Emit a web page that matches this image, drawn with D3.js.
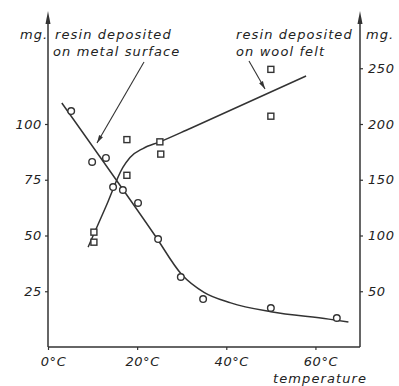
<!DOCTYPE html>
<html lang="en">
<head>
<meta charset="UTF-8">
<title>Resin deposited vs temperature</title>
<script src="https://d3js.org/d3.v7.min.js"></script>
<style>
    body { margin: 0; background: #fff; }
    svg { display: block; }
    text {
        font-family: "DejaVu Sans", sans-serif;
        font-style: italic;
        font-size: 13px;
        fill: #222;
    }
    .note { letter-spacing: 1.1px; }
    .tick line { stroke: #333; stroke-width: 1.2; }
    .domain { display: none; }
</style>
</head>
<body>
<script>
// metal surface (left axis, mg)
const metalTemp = [5.2, 9.9, 13, 14.6, 16.8, 20.2, 24.7, 29.8, 34.8, 50, 64.8];
const metalMg   = [105.8, 83, 84.8, 71.7, 70.4, 64.6, 48.4, 31.4, 21.5, 17.5, 13];
const metalCurveT = [3.1, 24, 30, 35, 41, 50, 63, 67.4];
const metalCurveV = [109.4, 50, 32.5, 24.5, 19.8, 15.8, 12.5, 11.2];

// wool felt (right axis, mg)
const woolTemp = [10.3, 10.3, 17.7, 17.7, 25.1, 25.3, 50, 50];
const woolMg   = [103, 94, 186, 154, 184, 173, 249, 207];
const woolCurveT = [9, 13, 16.8, 18.4, 21.3, 25.1, 31.9, 57.9];
const woolCurveV = [89.6, 126, 161, 170, 178, 184, 196, 243];

const xTicks = [0, 20, 40, 60];
const leftTicks = [25, 50, 75, 100];
const rightTicks = [50, 100, 150, 200, 250];

const W = 399, H = 386;
const svg = d3.select("body").append("svg").attr("width", W).attr("height", H);

const x = d3.scaleLinear().domain([0, 70]).range([48, 360]);
const yL = d3.scaleLinear().domain([0, 125]).range([347, 68.25]);
const yR = d3.scaleLinear().domain([0, 250]).range([347, 68.25]);
const ink = "#333";

// frame lines
svg.append("line").attr("x1", x(0)).attr("x2", x(70)).attr("y1", 347).attr("y2", 347)
    .attr("stroke", ink).attr("stroke-width", 1.5);
[x(0), x(70)].forEach(px => {
    svg.append("line").attr("x1", px).attr("x2", px).attr("y1", 347).attr("y2", 20)
        .attr("stroke", ink).attr("stroke-width", 1.5);
    svg.append("path").attr("d", `M${px},11 L${px - 2.5},24 L${px + 2.5},24 Z`).attr("fill", ink);
});

function styleText(g) {
    g.selectAll("text").style("font-size", "13px").style("font-family", "DejaVu Sans")
        .style("font-style", "italic").attr("fill", "#222");
}

// axes
svg.append("g").attr("transform", "translate(0,347)")
    .call(d3.axisBottom(x).tickValues(xTicks).tickSize(3).tickPadding(7).tickFormat(d => d + "°C"))
    .call(styleText)
    .call(g => g.selectAll("text").attr("dx", 5).style("letter-spacing", "0.6px"));
svg.append("g").attr("transform", `translate(${x(0)},0)`)
    .call(d3.axisLeft(yL).tickValues(leftTicks).tickSize(3).tickPadding(3))
    .call(styleText)
    .call(g => g.selectAll("text").style("letter-spacing", "0.6px"));
svg.append("g").attr("transform", `translate(${x(70)},0)`)
    .call(d3.axisRight(yR).tickValues(rightTicks).tickSize(3).tickPadding(5))
    .call(styleText)
    .call(g => g.selectAll("text").style("letter-spacing", "0.6px"));

// curves
const metalLine = d3.line().x(d => x(d[0])).y(d => yL(d[1])).curve(d3.curveMonotoneX);
const woolLine = d3.line().x(d => x(d[0])).y(d => yR(d[1])).curve(d3.curveMonotoneX);
svg.append("path").attr("d", metalLine(d3.zip(metalCurveT, metalCurveV)))
    .attr("fill", "none").attr("stroke", ink).attr("stroke-width", 1.5);
svg.append("path").attr("d", woolLine(d3.zip(woolCurveT, woolCurveV)))
    .attr("fill", "none").attr("stroke", ink).attr("stroke-width", 1.5);

// markers
svg.selectAll(".metal").data(d3.zip(metalTemp, metalMg)).enter().append("circle")
    .attr("cx", d => x(d[0])).attr("cy", d => yL(d[1])).attr("r", 3.3)
    .attr("fill", "#fff").attr("stroke", ink).attr("stroke-width", 1.4);
svg.selectAll(".wool").data(d3.zip(woolTemp, woolMg)).enter().append("rect")
    .attr("x", d => x(d[0]) - 3).attr("y", d => yR(d[1]) - 3).attr("width", 6).attr("height", 6)
    .attr("fill", "#fff").attr("stroke", ink).attr("stroke-width", 1.4);

// labels
const notes = [
    [20, 39, "mg."], [366, 39, "mg."],
    [55, 39, "resin deposited"], [53, 56, "on metal surface"],
    [236, 39, "resin deposited"], [236, 56, "on wool felt"],
    [273, 383, "temperature"]
];
svg.selectAll(".note").data(notes).enter().append("text")
    .attr("class", "note").attr("x", d => d[0]).attr("y", d => d[1]).text(d => d[2]);

// leader arrows
function leader(x1, y1, x2, y2) {
    svg.append("line").attr("x1", x1).attr("y1", y1).attr("x2", x2).attr("y2", y2)
        .attr("stroke", ink).attr("stroke-width", 1.1);
    const a = Math.atan2(y2 - y1, x2 - x1), L = 8, s = 2.2;
    const bx = x2 - L * Math.cos(a), by = y2 - L * Math.sin(a);
    svg.append("path").attr("d",
        `M${x2},${y2} L${bx - s * Math.sin(a)},${by + s * Math.cos(a)} L${bx + s * Math.sin(a)},${by - s * Math.cos(a)} Z`)
        .attr("fill", ink);
}
leader(144, 62, 97, 143);
leader(249, 61, 265, 89);
</script>
</body>
</html>
